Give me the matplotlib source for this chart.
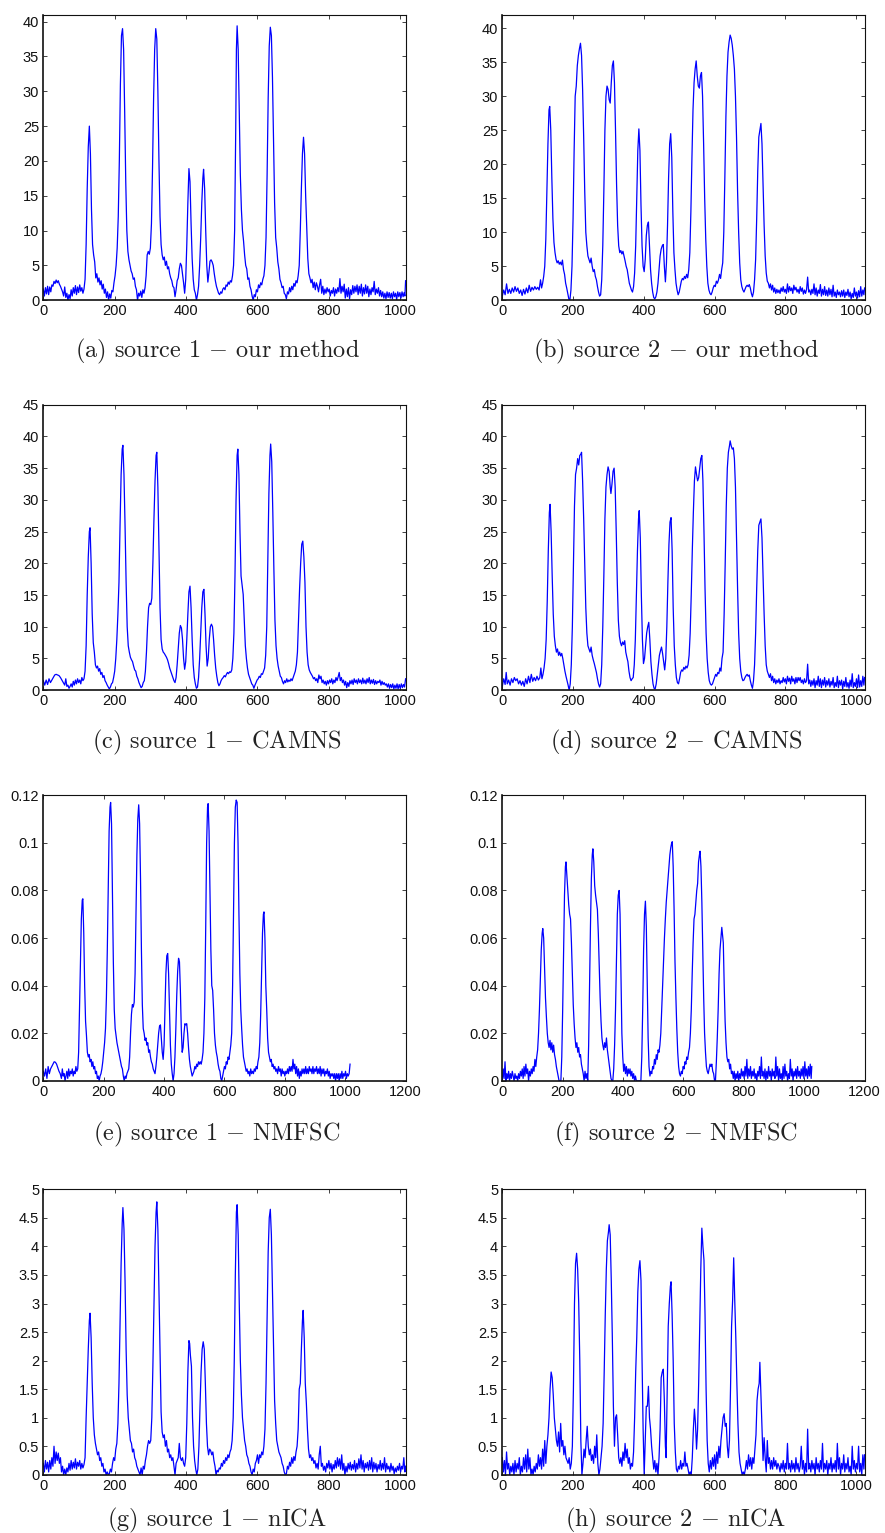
import matplotlib.pyplot as plt
from matplotlib.ticker import FuncFormatter, MultipleLocator

# (sample index, intensity) vertices

src1_ours = [
    (0, 1.6), (3, 0.6), (6, 1.8), (9, 0.9), (12, 2.0), (15, 0.8), (18, 1.9), (21, 1.2), (24, 2.2), (27, 2.0),
    (30, 2.7), (33, 2.4), (36, 2.9), (39, 2.5), (42, 2.8), (45, 2.3), (48, 2.0), (51, 1.6), (54, 1.2), (57, 0.6),
    (60, 1.9), (63, 0.4), (66, 1.0), (69, 0.0), (72, 0.8), (75, 0.2), (78, 1.5), (81, 0.6), (84, 1.8), (87, 1.0),
    (90, 2.1), (93, 0.8), (96, 1.9), (99, 1.1), (102, 2.2), (105, 1.3), (108, 1.8), (111, 1.0), (114, 1.6),
    (117, 3.0), (120, 8.0), (123, 16.0), (126, 22.0), (129, 25.0), (132, 21.0), (135, 13.0), (138, 8.0),
    (141, 6.5), (144, 5.5), (147, 3.2), (150, 3.8), (153, 2.6), (156, 3.2), (159, 2.2), (162, 2.8), (165, 1.6),
    (168, 2.3), (171, 1.0), (174, 1.6), (177, 0.4), (180, 1.2), (183, 0.0), (186, 0.9), (189, 0.3), (192, 1.4),
    (195, 1.2), (198, 2.5), (201, 3.5), (204, 5.0), (207, 7.5), (210, 12.0), (213, 20.0), (216, 31.0),
    (219, 38.0), (222, 39.0), (225, 36.0), (228, 27.0), (231, 17.0), (234, 10.0), (237, 7.0), (240, 5.8),
    (243, 5.0), (246, 4.2), (249, 3.8), (252, 3.0), (255, 3.2), (258, 2.0), (261, 1.5), (264, 0.0), (267, 1.0),
    (270, 0.6), (273, 1.3), (276, 0.4), (279, 1.5), (282, 1.0), (285, 1.8), (288, 3.5), (291, 6.5), (294, 7.0),
    (297, 6.6), (300, 7.5), (303, 11.0), (306, 19.0), (309, 29.0), (312, 36.0), (315, 39.0), (318, 37.5),
    (321, 30.0), (324, 20.0), (327, 12.0), (330, 8.0), (333, 6.5), (336, 5.8), (339, 6.2), (342, 5.0),
    (345, 5.6), (348, 4.5), (351, 4.8), (354, 3.8), (357, 3.2), (360, 2.8), (363, 2.0), (366, 1.8), (369, 0.5),
    (372, 1.5), (375, 2.8), (378, 3.2), (381, 4.5), (384, 5.3), (387, 5.0), (390, 3.8), (393, 2.5), (396, 1.0),
    (399, 3.0), (402, 8.0), (405, 14.0), (408, 18.9), (411, 17.0), (414, 11.0), (417, 6.0), (420, 3.0),
    (423, 1.5), (426, 1.0), (429, 0.0), (432, 0.8), (435, 2.0), (438, 5.0), (441, 9.0), (444, 14.0),
    (447, 17.5), (449, 18.8), (452, 16.0), (455, 10.0), (458, 5.0), (461, 2.6), (464, 4.0), (467, 5.6),
    (470, 5.8), (473, 5.5), (476, 5.0), (479, 3.8), (482, 2.8), (485, 2.0), (488, 1.5), (491, 1.0), (494, 0.8),
    (497, 1.2), (500, 1.0), (503, 1.6), (506, 1.8), (509, 1.5), (512, 2.2), (515, 2.0), (518, 2.6), (521, 2.3),
    (524, 2.8), (527, 2.6), (530, 3.5), (533, 5.0), (536, 10.0), (539, 24.0), (541, 36.0), (543, 39.4),
    (546, 36.0), (549, 27.0), (552, 18.0), (555, 13.0), (558, 10.0), (561, 8.5), (564, 6.5), (567, 5.0),
    (570, 4.5), (573, 3.0), (576, 3.2), (579, 2.0), (582, 1.5), (585, 0.6), (588, 0.0), (591, 0.8), (594, 0.5),
    (597, 1.5), (600, 1.2), (603, 2.2), (606, 1.8), (609, 2.5), (612, 2.2), (615, 3.0), (618, 3.5), (621, 5.0),
    (624, 9.0), (627, 18.0), (630, 29.0), (633, 36.5), (636, 39.2), (639, 38.0), (642, 32.0), (645, 23.0),
    (648, 14.0), (651, 9.0), (654, 7.5), (657, 5.5), (660, 4.5), (663, 3.0), (666, 2.5), (669, 1.8), (672, 2.0),
    (675, 1.0), (678, 0.8), (681, 0.2), (684, 1.2), (687, 0.9), (690, 1.8), (693, 1.2), (696, 2.0), (699, 1.5),
    (702, 2.4), (705, 2.0), (708, 2.8), (711, 2.5), (714, 3.5), (717, 5.0), (720, 10.0), (723, 16.0),
    (726, 21.0), (729, 23.4), (732, 21.0), (735, 15.0), (738, 10.5), (741, 6.0), (744, 3.8), (747, 3.2),
    (750, 2.5), (753, 3.0), (756, 1.8), (759, 2.6), (762, 1.5), (765, 2.5), (768, 2.0), (771, 1.2), (774, 2.2),
    (777, 3.0), (780, 1.0), (783, 2.0), (786, 0.8), (789, 1.6), (792, 1.0), (795, 1.8), (798, 1.2), (801, 1.6),
    (804, 0.6), (807, 1.4), (810, 1.0), (813, 1.8), (816, 0.6), (819, 1.6), (822, 1.0), (825, 1.8), (828, 1.2),
    (831, 3.1), (834, 1.0), (837, 2.0), (840, 1.2), (843, 2.3), (846, 0.3), (849, 1.6), (852, 0.5), (855, 1.8),
    (858, 0.2), (861, 1.5), (864, 0.8), (867, 2.1), (870, 1.0), (873, 2.0), (876, 1.2), (879, 2.2), (882, 0.8),
    (885, 2.0), (888, 1.0), (891, 2.3), (894, 0.6), (897, 1.8), (900, 0.9), (903, 2.2), (906, 1.0), (909, 2.0),
    (912, 0.5), (915, 1.6), (918, 0.8), (921, 1.8), (924, 1.2), (927, 2.7), (930, 0.8), (933, 1.6), (936, 1.0),
    (939, 1.8), (942, 0.6), (945, 1.4), (948, 0.5), (951, 1.2), (954, 0.3), (957, 1.0), (960, 0.2), (963, 1.2),
    (966, 0.4), (969, 1.1), (972, 0.3), (975, 1.0), (978, 0.2), (981, 1.2), (984, 0.5), (987, 1.0), (990, 0.1),
    (993, 1.2), (996, 0.5), (999, 1.1), (1002, 0.3), (1005, 1.2), (1008, 0.5), (1011, 1.1), (1013, 0.6),
    (1015, 2.8),
]

src2_ours = [
    (0, 0.6), (4, 1.5), (8, 0.8), (12, 2.4), (16, 1.0), (20, 1.6), (24, 1.0), (28, 1.8), (32, 1.2), (36, 2.0),
    (40, 1.3), (44, 1.8), (48, 1.0), (52, 1.5), (56, 0.7), (60, 1.6), (64, 0.9), (68, 1.8), (72, 1.1), (76, 2.2),
    (80, 1.3), (84, 1.9), (88, 1.5), (92, 2.0), (96, 1.6), (100, 1.9), (104, 1.5), (108, 3.0), (111, 1.8),
    (114, 2.5), (117, 3.5), (120, 5.0), (123, 9.0), (126, 16.0), (129, 23.0), (132, 28.0), (134, 28.5),
    (137, 25.0), (140, 18.0), (143, 12.0), (146, 8.5), (149, 7.0), (152, 6.0), (155, 5.5), (158, 5.8),
    (161, 5.3), (164, 5.6), (167, 5.2), (170, 5.9), (173, 4.5), (176, 3.8), (179, 2.5), (182, 1.8), (185, 1.0),
    (188, 0.2), (191, 0.0), (194, 1.5), (197, 5.0), (200, 12.0), (203, 22.0), (206, 30.0), (209, 31.5),
    (212, 34.5), (215, 36.0), (218, 37.0), (221, 37.8), (224, 36.0), (227, 31.0), (230, 24.0), (233, 16.0),
    (236, 10.0), (239, 8.0), (242, 6.5), (245, 6.0), (248, 5.5), (251, 6.2), (254, 5.0), (257, 4.2), (260, 4.5),
    (263, 3.5), (266, 3.0), (269, 2.0), (272, 1.2), (275, 0.6), (278, 0.8), (281, 3.0), (284, 8.0), (287, 16.0),
    (290, 25.0), (293, 30.0), (296, 31.5), (299, 31.0), (302, 29.5), (305, 29.0), (308, 32.0), (311, 34.5),
    (314, 35.2), (317, 32.0), (320, 25.0), (323, 17.0), (326, 11.0), (329, 8.0), (332, 7.0), (335, 7.3),
    (338, 6.8), (341, 7.2), (344, 6.5), (347, 5.8), (350, 5.0), (353, 4.5), (356, 3.5), (359, 2.5), (362, 2.0),
    (365, 1.5), (368, 1.2), (371, 2.0), (374, 4.0), (377, 8.0), (380, 15.0), (383, 22.0), (386, 25.2),
    (389, 22.0), (392, 14.0), (395, 8.0), (398, 5.0), (401, 4.2), (404, 6.0), (407, 9.5), (410, 11.0),
    (413, 11.5), (416, 8.0), (419, 4.5), (422, 2.5), (425, 1.2), (428, 0.4), (431, 0.2), (434, 0.5), (437, 1.2),
    (440, 2.5), (443, 4.5), (446, 6.5), (449, 7.5), (452, 8.0), (455, 8.2), (458, 5.0), (461, 2.7), (464, 5.5),
    (467, 11.0), (470, 18.0), (473, 23.0), (476, 24.5), (479, 21.0), (482, 13.0), (485, 7.0), (488, 4.5),
    (491, 2.5), (494, 1.5), (497, 0.8), (500, 1.2), (503, 2.0), (506, 2.8), (509, 3.2), (512, 3.0), (515, 3.5),
    (518, 3.2), (521, 3.8), (524, 3.3), (527, 4.5), (530, 7.0), (533, 13.0), (536, 21.0), (539, 28.0),
    (542, 32.0), (545, 34.0), (548, 35.2), (551, 33.0), (554, 31.5), (557, 31.2), (560, 33.0), (563, 33.5),
    (566, 30.0), (569, 23.0), (572, 15.0), (575, 9.0), (578, 5.0), (581, 2.5), (584, 1.5), (587, 1.0),
    (590, 0.8), (593, 1.2), (596, 1.8), (599, 2.2), (602, 2.0), (605, 2.8), (608, 2.5), (611, 3.0), (614, 3.8),
    (617, 3.2), (620, 4.5), (623, 5.5), (626, 10.0), (629, 18.0), (632, 27.0), (635, 33.0), (638, 36.5),
    (641, 38.0), (644, 39.0), (647, 38.5), (650, 37.5), (653, 36.0), (656, 34.0), (659, 30.0), (662, 24.0),
    (665, 16.0), (668, 10.0), (671, 5.5), (674, 3.0), (677, 2.0), (680, 1.5), (683, 1.2), (686, 1.6), (689, 2.0),
    (692, 2.2), (695, 2.0), (698, 2.3), (701, 1.8), (704, 1.0), (707, 0.5), (710, 1.2), (713, 3.0), (716, 6.0),
    (719, 12.0), (722, 19.0), (725, 24.0), (728, 25.0), (731, 26.0), (734, 23.0), (737, 17.0), (740, 11.0),
    (743, 6.5), (746, 4.0), (749, 2.8), (752, 2.5), (755, 1.8), (758, 2.4), (761, 1.5), (764, 2.2), (767, 1.2),
    (770, 1.8), (773, 1.0), (776, 1.6), (779, 1.1), (782, 1.5), (785, 1.0), (788, 1.8), (791, 1.3), (794, 2.0),
    (797, 1.2), (800, 1.6), (803, 1.0), (806, 2.4), (809, 1.2), (812, 2.0), (815, 1.4), (818, 1.8), (821, 1.0),
    (824, 2.2), (827, 1.5), (830, 1.9), (833, 1.2), (836, 1.6), (839, 1.0), (842, 2.0), (845, 1.3), (848, 1.8),
    (851, 0.9), (854, 1.5), (857, 1.0), (860, 1.6), (863, 3.4), (866, 1.2), (869, 1.5), (872, 0.8), (875, 1.6),
    (878, 1.0), (881, 2.4), (884, 0.8), (887, 1.8), (890, 0.6), (893, 1.5), (896, 1.0), (899, 2.3), (902, 0.6),
    (905, 1.6), (908, 0.8), (911, 2.0), (914, 0.7), (917, 1.5), (920, 0.6), (923, 1.8), (926, 0.8), (929, 1.6),
    (932, 0.5), (935, 2.2), (938, 0.6), (941, 1.2), (944, 0.4), (947, 1.5), (950, 0.8), (953, 1.2), (956, 0.5),
    (959, 1.4), (962, 0.6), (965, 1.5), (968, 0.4), (971, 1.2), (974, 0.7), (977, 1.6), (980, 0.5), (983, 1.2),
    (986, 0.2), (989, 1.0), (992, 0.4), (995, 1.8), (998, 0.6), (1001, 1.2), (1004, 0.3), (1007, 1.4),
    (1010, 0.5), (1013, 2.0), (1016, 0.6), (1019, 1.5), (1022, 0.8), (1024, 1.8),
]

src1_camns = [
    (0, 1.5), (4, 0.8), (8, 1.6), (12, 0.9), (16, 1.8), (20, 1.2), (24, 1.6), (28, 2.0), (32, 2.4), (36, 2.5),
    (40, 2.4), (44, 2.3), (48, 2.0), (52, 1.6), (56, 1.2), (60, 0.8), (63, 1.8), (66, 0.6), (69, 0.8), (72, 0.3),
    (75, 0.6), (78, 1.0), (81, 0.5), (84, 1.4), (87, 0.8), (90, 1.6), (93, 1.0), (96, 1.8), (99, 1.2), (102, 1.6),
    (105, 1.0), (108, 2.0), (111, 1.5), (114, 1.8), (117, 3.0), (120, 7.0), (123, 15.0), (126, 21.0),
    (129, 25.0), (131, 25.6), (134, 20.0), (137, 12.0), (140, 7.5), (143, 6.0), (146, 4.0), (149, 3.5),
    (152, 3.8), (155, 3.0), (158, 3.4), (161, 2.5), (164, 2.8), (167, 2.0), (170, 2.3), (173, 1.5), (176, 1.2),
    (179, 0.8), (182, 0.5), (185, 0.2), (188, 0.5), (191, 1.0), (194, 1.2), (197, 2.0), (200, 3.0), (203, 5.0),
    (206, 8.0), (209, 12.0), (212, 17.0), (215, 26.0), (218, 34.0), (221, 38.0), (223, 38.6), (226, 34.0),
    (229, 26.0), (232, 17.0), (235, 10.0), (238, 7.0), (241, 6.0), (244, 5.2), (247, 4.8), (250, 4.5),
    (253, 3.8), (256, 3.2), (259, 3.0), (262, 2.2), (265, 1.8), (268, 1.2), (271, 0.8), (274, 0.4), (277, 0.6),
    (280, 1.2), (283, 1.5), (286, 3.0), (289, 6.0), (292, 10.0), (295, 13.0), (298, 13.7), (301, 13.5),
    (304, 14.5), (307, 20.0), (310, 27.0), (313, 33.0), (316, 37.0), (318, 37.5), (321, 32.0), (324, 22.0),
    (327, 13.0), (330, 8.0), (333, 6.5), (336, 6.0), (339, 5.8), (342, 5.5), (345, 5.2), (348, 4.8), (351, 4.2),
    (354, 3.5), (357, 3.0), (360, 2.5), (363, 2.0), (366, 1.5), (369, 1.2), (372, 2.0), (375, 4.0), (378, 6.5),
    (381, 9.0), (384, 10.2), (387, 9.8), (390, 8.0), (393, 5.0), (396, 3.3), (399, 4.5), (402, 8.0),
    (405, 12.0), (408, 15.5), (411, 16.4), (414, 13.0), (417, 8.0), (420, 4.0), (423, 2.0), (426, 1.0),
    (429, 0.3), (432, 0.5), (435, 2.0), (438, 5.0), (441, 9.0), (444, 13.0), (447, 15.5), (450, 15.9),
    (453, 12.0), (456, 7.0), (459, 3.8), (462, 5.0), (465, 8.0), (468, 10.0), (471, 10.4), (474, 10.0),
    (477, 8.0), (480, 5.5), (483, 3.5), (486, 2.2), (489, 1.2), (492, 0.7), (495, 1.0), (498, 1.5), (501, 1.8),
    (504, 2.0), (507, 2.3), (510, 2.1), (513, 2.5), (516, 2.8), (519, 2.6), (522, 2.9), (525, 2.8), (528, 3.2),
    (531, 5.0), (534, 9.0), (537, 18.0), (540, 30.0), (543, 37.0), (545, 38.0), (548, 34.0), (551, 25.0),
    (554, 18.0), (557, 16.5), (560, 15.1), (563, 11.0), (566, 7.0), (569, 5.0), (572, 3.5), (575, 2.5),
    (578, 2.0), (581, 1.5), (584, 1.0), (587, 0.8), (590, 0.3), (593, 0.8), (596, 1.2), (599, 1.6), (602, 1.8),
    (605, 2.2), (608, 2.0), (611, 2.6), (614, 2.5), (617, 3.0), (620, 3.5), (623, 5.5), (626, 10.0),
    (629, 20.0), (632, 31.0), (635, 37.0), (637, 38.8), (640, 36.0), (643, 28.0), (646, 19.0), (649, 11.0),
    (652, 7.0), (655, 5.0), (658, 3.8), (661, 3.0), (664, 2.2), (667, 2.0), (670, 1.4), (673, 1.0), (676, 1.5),
    (679, 1.2), (682, 1.8), (685, 1.3), (688, 1.6), (691, 1.4), (694, 1.8), (697, 1.5), (700, 2.0), (703, 2.5),
    (706, 3.0), (709, 4.0), (712, 6.0), (715, 11.0), (718, 16.0), (721, 20.0), (724, 23.0), (727, 23.5),
    (730, 21.0), (733, 17.0), (736, 10.0), (739, 6.0), (742, 4.0), (745, 3.2), (748, 2.8), (751, 2.5),
    (754, 2.2), (757, 1.8), (760, 2.0), (763, 1.5), (766, 1.8), (769, 1.2), (772, 2.4), (775, 1.8), (778, 2.2),
    (781, 1.2), (784, 1.6), (787, 1.0), (790, 1.4), (793, 0.8), (796, 1.5), (799, 1.0), (802, 1.6), (805, 1.2),
    (808, 1.8), (811, 1.0), (814, 1.6), (817, 1.2), (820, 2.0), (823, 1.5), (826, 2.1), (829, 2.8), (832, 1.5),
    (835, 2.0), (838, 1.2), (841, 1.6), (844, 0.8), (847, 1.4), (850, 0.4), (853, 1.2), (856, 0.6), (859, 1.5),
    (862, 1.0), (865, 1.6), (868, 0.9), (871, 1.8), (874, 1.2), (877, 1.6), (880, 1.0), (883, 1.8), (886, 1.2),
    (889, 1.6), (892, 1.0), (895, 1.9), (898, 1.1), (901, 1.6), (904, 1.0), (907, 1.8), (910, 1.2), (913, 2.0),
    (916, 1.0), (919, 1.6), (922, 1.1), (925, 1.7), (928, 0.9), (931, 1.5), (934, 1.0), (937, 1.4), (940, 1.2),
    (943, 1.6), (946, 0.8), (949, 1.4), (952, 0.9), (955, 1.2), (958, 0.8), (961, 1.0), (964, 0.5), (967, 1.0),
    (970, 0.3), (973, 0.9), (976, 0.4), (979, 1.0), (982, 0.2), (985, 0.8), (988, 0.3), (991, 1.0), (994, 0.2),
    (997, 0.9), (1000, 0.3), (1003, 1.0), (1006, 0.4), (1009, 0.9), (1012, 0.5), (1015, 1.8),
]

src2_camns = [
    (0, 0.6), (4, 1.8), (8, 0.9), (11, 2.8), (14, 1.0), (18, 1.6), (22, 0.8), (26, 1.8), (30, 1.2), (34, 2.0),
    (38, 1.5), (42, 1.8), (46, 1.0), (50, 1.5), (54, 0.8), (58, 1.4), (62, 0.6), (66, 1.8), (70, 1.0), (74, 2.2),
    (78, 1.2), (82, 2.5), (86, 1.4), (90, 2.0), (94, 1.5), (98, 2.2), (102, 1.6), (106, 2.0), (109, 3.5),
    (112, 1.8), (115, 2.5), (118, 3.5), (121, 5.0), (124, 8.0), (127, 14.0), (130, 22.0), (133, 28.0),
    (135, 29.3), (138, 25.0), (141, 18.0), (144, 12.0), (147, 8.5), (150, 7.0), (153, 6.0), (156, 6.5),
    (159, 5.5), (162, 6.0), (165, 5.4), (168, 5.8), (171, 5.0), (174, 4.0), (177, 3.0), (180, 2.2), (183, 1.5),
    (186, 0.8), (189, 0.0), (192, 1.0), (195, 4.0), (198, 10.0), (201, 20.0), (204, 29.0), (207, 34.0),
    (210, 35.0), (213, 36.5), (216, 35.5), (219, 37.0), (222, 37.2), (224, 37.5), (227, 33.0), (230, 27.0),
    (233, 20.0), (236, 13.0), (239, 9.0), (242, 7.0), (245, 6.5), (248, 6.0), (251, 6.8), (254, 5.5),
    (257, 4.8), (260, 4.2), (263, 3.5), (266, 2.8), (269, 1.8), (272, 1.0), (275, 0.5), (278, 1.0), (281, 4.0),
    (284, 10.0), (287, 18.0), (290, 27.0), (293, 32.0), (296, 34.0), (299, 35.2), (302, 34.5), (305, 32.0),
    (307, 31.0), (310, 32.5), (313, 34.5), (316, 35.0), (319, 32.0), (322, 25.0), (325, 17.0), (328, 11.0),
    (331, 8.5), (334, 7.5), (337, 7.0), (340, 7.6), (343, 7.2), (346, 7.8), (349, 6.0), (352, 5.2), (355, 4.5),
    (358, 3.0), (361, 2.0), (364, 1.5), (367, 1.8), (370, 2.0), (373, 4.0), (376, 8.0), (379, 15.0),
    (382, 22.0), (385, 27.0), (387, 28.3), (390, 24.0), (393, 15.0), (396, 8.0), (399, 4.2), (402, 5.0),
    (405, 7.0), (408, 9.0), (411, 10.0), (414, 10.7), (417, 8.0), (420, 4.5), (423, 2.5), (426, 1.0),
    (429, 0.3), (432, 0.2), (435, 1.0), (438, 2.5), (441, 4.0), (444, 5.5), (447, 6.2), (450, 6.8), (453, 5.8),
    (456, 4.5), (459, 3.2), (462, 5.0), (465, 10.0), (468, 17.0), (471, 23.0), (474, 26.5), (477, 27.2),
    (480, 22.0), (483, 13.0), (486, 7.0), (489, 4.0), (492, 2.0), (495, 1.2), (498, 1.0), (501, 1.8),
    (504, 2.8), (507, 3.2), (510, 3.0), (513, 3.6), (516, 3.3), (519, 3.8), (522, 3.5), (525, 4.0), (528, 5.5),
    (531, 9.0), (534, 15.0), (537, 22.0), (540, 28.0), (543, 33.0), (546, 35.2), (549, 34.0), (552, 33.0),
    (555, 33.5), (558, 35.0), (561, 36.5), (564, 37.0), (567, 33.0), (570, 25.0), (573, 16.0), (576, 9.0),
    (579, 5.0), (582, 2.8), (585, 1.5), (588, 1.0), (591, 0.8), (594, 1.0), (597, 1.5), (600, 2.0), (603, 2.5),
    (606, 2.2), (609, 2.8), (612, 2.6), (615, 3.5), (618, 3.0), (621, 5.0), (624, 6.0), (627, 12.0),
    (630, 20.0), (633, 29.0), (636, 35.0), (639, 37.5), (642, 38.5), (644, 39.3), (647, 38.5), (650, 38.0),
    (653, 38.2), (656, 36.5), (659, 32.0), (662, 24.0), (665, 16.0), (668, 9.0), (671, 5.0), (674, 3.0),
    (677, 2.0), (680, 1.5), (683, 1.6), (686, 2.0), (689, 2.3), (692, 2.5), (695, 2.2), (698, 2.4), (701, 1.5),
    (704, 0.8), (707, 0.3), (710, 1.5), (713, 4.0), (716, 9.0), (719, 16.0), (722, 22.0), (725, 26.0),
    (728, 26.5), (731, 27.0), (734, 24.0), (737, 18.0), (740, 12.0), (743, 7.0), (746, 4.0), (749, 3.0),
    (752, 2.5), (755, 2.0), (758, 2.6), (761, 1.5), (764, 2.2), (767, 1.2), (770, 1.8), (773, 1.0), (776, 1.6),
    (779, 1.2), (782, 1.8), (785, 1.0), (788, 1.5), (791, 1.2), (794, 2.0), (797, 1.3), (800, 1.8), (803, 1.0),
    (806, 2.2), (809, 1.4), (812, 1.9), (815, 1.0), (818, 2.2), (821, 1.4), (824, 1.8), (827, 1.0), (830, 2.0),
    (833, 1.2), (836, 2.0), (839, 1.5), (842, 2.0), (845, 1.2), (848, 1.6), (851, 1.0), (854, 1.8), (857, 1.2),
    (860, 1.5), (863, 4.1), (866, 1.0), (869, 1.6), (872, 0.6), (875, 1.5), (878, 0.8), (881, 1.8), (884, 0.4),
    (887, 1.5), (890, 0.8), (893, 2.2), (896, 0.6), (899, 1.8), (902, 0.4), (905, 1.6), (908, 0.8), (911, 2.0),
    (914, 0.5), (917, 1.5), (920, 0.8), (923, 1.8), (926, 0.5), (929, 1.4), (932, 0.8), (935, 2.0), (938, 0.4),
    (941, 1.2), (944, 0.6), (947, 2.2), (950, 0.4), (953, 1.5), (956, 0.8), (959, 1.6), (962, 0.2), (965, 1.4),
    (968, 0.6), (971, 2.0), (974, 0.5), (977, 1.2), (980, 0.3), (983, 1.6), (986, 0.6), (989, 2.6), (992, 0.4),
    (995, 1.2), (998, 0.6), (1001, 1.8), (1004, 0.4), (1007, 2.4), (1010, 0.5), (1013, 1.5), (1016, 0.6),
    (1019, 2.2), (1022, 0.8), (1024, 2.0),
]

src1_nmfsc = [
    (0, 0.004), (4, 0.002), (8, 0.005), (12, 0.001), (16, 0.006), (20, 0.003), (24, 0.005), (28, 0.006),
    (32, 0.007), (36, 0.008), (40, 0.0078), (44, 0.007), (48, 0.0055), (52, 0.004), (56, 0.003), (60, 0.001),
    (63, 0.005), (66, 0.002), (69, 0.003), (72, 0.0), (75, 0.002), (78, 0.004), (81, 0.001), (84, 0.005),
    (87, 0.002), (90, 0.004), (93, 0.003), (96, 0.005), (99, 0.002), (102, 0.004), (105, 0.003), (108, 0.006),
    (111, 0.004), (114, 0.005), (117, 0.012), (120, 0.03), (123, 0.05), (126, 0.068), (129, 0.076),
    (131, 0.0765), (134, 0.062), (137, 0.04), (140, 0.025), (143, 0.019), (146, 0.012), (149, 0.01),
    (152, 0.011), (155, 0.008), (158, 0.009), (161, 0.006), (164, 0.008), (167, 0.005), (170, 0.006),
    (173, 0.003), (176, 0.004), (179, 0.001), (182, 0.002), (185, 0.0), (188, 0.002), (191, 0.003),
    (194, 0.005), (197, 0.008), (200, 0.012), (203, 0.016), (206, 0.022), (209, 0.035), (212, 0.055),
    (215, 0.08), (218, 0.105), (221, 0.115), (223, 0.117), (226, 0.108), (229, 0.08), (232, 0.05), (235, 0.03),
    (238, 0.022), (241, 0.019), (244, 0.016), (247, 0.014), (250, 0.012), (253, 0.01), (256, 0.008),
    (259, 0.006), (262, 0.005), (265, 0.002), (268, 0.0), (271, 0.002), (274, 0.001), (277, 0.003),
    (280, 0.004), (283, 0.005), (286, 0.01), (289, 0.02), (292, 0.028), (295, 0.032), (298, 0.031),
    (301, 0.033), (304, 0.045), (307, 0.07), (310, 0.095), (313, 0.11), (316, 0.116), (319, 0.108),
    (322, 0.085), (325, 0.055), (328, 0.032), (331, 0.022), (334, 0.02), (337, 0.017), (340, 0.018),
    (343, 0.015), (346, 0.016), (349, 0.012), (352, 0.013), (355, 0.01), (358, 0.008), (361, 0.007),
    (364, 0.005), (367, 0.004), (370, 0.003), (373, 0.006), (376, 0.01), (379, 0.015), (382, 0.02),
    (385, 0.023), (388, 0.0235), (391, 0.018), (394, 0.012), (397, 0.009), (400, 0.015), (403, 0.03),
    (406, 0.045), (409, 0.0525), (412, 0.0535), (415, 0.045), (418, 0.03), (421, 0.015), (424, 0.007),
    (427, 0.003), (430, 0.0), (433, 0.003), (436, 0.01), (439, 0.022), (442, 0.036), (445, 0.046),
    (448, 0.0515), (451, 0.05), (454, 0.038), (457, 0.022), (460, 0.012), (463, 0.014), (466, 0.02),
    (469, 0.024), (472, 0.0235), (475, 0.024), (478, 0.02), (481, 0.014), (484, 0.009), (487, 0.006),
    (490, 0.004), (493, 0.002), (496, 0.003), (499, 0.004), (502, 0.006), (505, 0.005), (508, 0.007),
    (511, 0.006), (514, 0.008), (517, 0.007), (520, 0.008), (523, 0.007), (526, 0.009), (529, 0.012),
    (532, 0.02), (535, 0.035), (538, 0.065), (541, 0.1), (544, 0.115), (546, 0.1165), (549, 0.105),
    (552, 0.08), (555, 0.055), (558, 0.04), (561, 0.038), (564, 0.03), (567, 0.02), (570, 0.015),
    (573, 0.012), (576, 0.01), (579, 0.007), (582, 0.005), (585, 0.004), (588, 0.001), (591, 0.0),
    (594, 0.002), (597, 0.004), (600, 0.006), (603, 0.005), (606, 0.008), (609, 0.007), (612, 0.01),
    (615, 0.009), (618, 0.012), (621, 0.015), (624, 0.02), (627, 0.04), (630, 0.07), (633, 0.1), (636, 0.115),
    (639, 0.118), (642, 0.117), (645, 0.1), (648, 0.07), (651, 0.045), (654, 0.03), (657, 0.022),
    (660, 0.015), (663, 0.01), (666, 0.008), (669, 0.006), (672, 0.004), (675, 0.005), (678, 0.003),
    (681, 0.004), (684, 0.002), (687, 0.005), (690, 0.003), (693, 0.004), (696, 0.003), (699, 0.005),
    (702, 0.004), (705, 0.006), (708, 0.005), (711, 0.008), (714, 0.01), (717, 0.016), (720, 0.028),
    (723, 0.045), (726, 0.062), (729, 0.07), (731, 0.071), (734, 0.06), (737, 0.04), (740, 0.03),
    (743, 0.018), (746, 0.012), (749, 0.01), (752, 0.008), (755, 0.009), (758, 0.006), (761, 0.007),
    (764, 0.005), (767, 0.006), (770, 0.004), (773, 0.005), (776, 0.003), (779, 0.006), (782, 0.004),
    (785, 0.005), (788, 0.002), (791, 0.005), (794, 0.003), (797, 0.004), (800, 0.002), (803, 0.004),
    (806, 0.003), (809, 0.005), (812, 0.003), (815, 0.006), (818, 0.004), (821, 0.006), (824, 0.004),
    (827, 0.009), (830, 0.005), (833, 0.007), (836, 0.003), (839, 0.006), (842, 0.002), (845, 0.005),
    (848, 0.001), (851, 0.004), (854, 0.002), (857, 0.005), (860, 0.003), (863, 0.005), (866, 0.003),
    (869, 0.006), (872, 0.003), (875, 0.005), (878, 0.003), (881, 0.006), (884, 0.004), (887, 0.005),
    (890, 0.003), (893, 0.006), (896, 0.003), (899, 0.005), (902, 0.004), (905, 0.006), (908, 0.003),
    (911, 0.005), (914, 0.003), (917, 0.006), (920, 0.002), (923, 0.005), (926, 0.003), (929, 0.005),
    (932, 0.002), (935, 0.004), (938, 0.003), (941, 0.005), (944, 0.002), (947, 0.004), (950, 0.001),
    (953, 0.003), (956, 0.002), (959, 0.003), (962, 0.001), (965, 0.003), (968, 0.0), (971, 0.003),
    (974, 0.001), (977, 0.003), (980, 0.0), (983, 0.003), (986, 0.001), (989, 0.004), (992, 0.001),
    (995, 0.003), (998, 0.002), (1001, 0.004), (1004, 0.001), (1007, 0.003), (1010, 0.002), (1013, 0.003),
    (1016, 0.007),
]

src2_nmfsc = [
    (0, 0.0), (3, 0.005), (6, 0.001), (9, 0.008), (12, 0.0), (15, 0.003), (18, 0.001), (21, 0.004), (24, 0.0),
    (27, 0.003), (30, 0.001), (33, 0.004), (36, 0.002), (39, 0.0), (42, 0.003), (45, 0.001), (48, 0.002),
    (51, 0.0), (54, 0.003), (57, 0.001), (60, 0.004), (63, 0.002), (66, 0.005), (69, 0.001), (72, 0.006),
    (75, 0.002), (78, 0.007), (81, 0.003), (84, 0.005), (87, 0.0), (90, 0.004), (93, 0.002), (96, 0.005),
    (99, 0.003), (102, 0.006), (105, 0.004), (108, 0.009), (111, 0.006), (114, 0.01), (117, 0.013),
    (120, 0.02), (123, 0.03), (126, 0.042), (129, 0.055), (132, 0.062), (134, 0.064), (137, 0.06),
    (140, 0.048), (143, 0.035), (146, 0.027), (149, 0.02), (152, 0.016), (155, 0.014), (158, 0.017),
    (161, 0.013), (164, 0.016), (167, 0.012), (170, 0.015), (173, 0.011), (176, 0.009), (179, 0.006),
    (182, 0.004), (185, 0.002), (188, 0.0), (191, 0.0), (194, 0.0), (197, 0.01), (200, 0.03), (203, 0.055),
    (206, 0.078), (209, 0.09), (211, 0.092), (214, 0.086), (217, 0.08), (220, 0.074), (223, 0.07),
    (226, 0.068), (229, 0.058), (232, 0.045), (235, 0.032), (238, 0.024), (241, 0.018), (244, 0.014),
    (247, 0.016), (250, 0.012), (253, 0.014), (256, 0.01), (259, 0.011), (262, 0.007), (265, 0.005),
    (268, 0.003), (271, 0.0), (274, 0.004), (277, 0.001), (280, 0.003), (283, 0.0), (286, 0.015), (289, 0.04),
    (292, 0.065), (295, 0.085), (298, 0.095), (300, 0.0975), (303, 0.092), (306, 0.082), (309, 0.078),
    (312, 0.075), (315, 0.072), (318, 0.062), (321, 0.048), (324, 0.035), (327, 0.025), (330, 0.018),
    (333, 0.015), (336, 0.013), (339, 0.016), (342, 0.014), (345, 0.018), (348, 0.013), (351, 0.01),
    (354, 0.007), (357, 0.004), (360, 0.001), (363, 0.0), (366, 0.0), (369, 0.005), (372, 0.015),
    (375, 0.03), (378, 0.05), (381, 0.07), (384, 0.078), (387, 0.08), (390, 0.07), (393, 0.045), (396, 0.02),
    (399, 0.01), (402, 0.004), (405, 0.007), (408, 0.003), (411, 0.006), (414, 0.002), (417, 0.005),
    (420, 0.003), (423, 0.005), (426, 0.002), (429, 0.004), (432, 0.001), (435, 0.003), (438, 0.0),
    (441, 0.002), (444, 0.0), (447, 0.0), (450, 0.0), (453, 0.0), (456, 0.0), (459, 0.0), (462, 0.01),
    (465, 0.03), (468, 0.055), (471, 0.07), (474, 0.0755), (477, 0.065), (480, 0.04), (483, 0.018),
    (486, 0.006), (489, 0.002), (492, 0.004), (495, 0.003), (498, 0.006), (501, 0.005), (504, 0.009),
    (507, 0.007), (510, 0.011), (513, 0.009), (516, 0.013), (519, 0.012), (522, 0.015), (525, 0.02),
    (528, 0.03), (531, 0.04), (534, 0.05), (537, 0.06), (540, 0.068), (543, 0.075), (546, 0.08), (549, 0.085),
    (552, 0.09), (555, 0.095), (558, 0.098), (561, 0.1), (563, 0.1005), (566, 0.09), (569, 0.072),
    (572, 0.05), (575, 0.035), (578, 0.022), (581, 0.012), (584, 0.006), (587, 0.003), (590, 0.002),
    (593, 0.004), (596, 0.003), (599, 0.006), (602, 0.005), (605, 0.008), (608, 0.007), (611, 0.01),
    (614, 0.009), (617, 0.012), (620, 0.014), (623, 0.02), (626, 0.03), (629, 0.045), (632, 0.058),
    (635, 0.068), (638, 0.07), (641, 0.075), (644, 0.08), (647, 0.083), (650, 0.092), (653, 0.095),
    (655, 0.0965), (658, 0.09), (661, 0.075), (664, 0.055), (667, 0.035), (670, 0.02), (673, 0.012),
    (676, 0.006), (679, 0.004), (682, 0.003), (685, 0.005), (688, 0.007), (691, 0.006), (694, 0.007),
    (697, 0.004), (700, 0.003), (703, 0.0), (706, 0.0), (709, 0.008), (712, 0.018), (715, 0.03),
    (718, 0.045), (721, 0.055), (724, 0.06), (727, 0.0645), (729, 0.062), (732, 0.058), (735, 0.04),
    (738, 0.025), (741, 0.016), (744, 0.01), (747, 0.008), (750, 0.009), (753, 0.005), (756, 0.007),
    (759, 0.003), (762, 0.004), (765, 0.001), (768, 0.004), (771, 0.0), (774, 0.003), (777, 0.001),
    (780, 0.004), (783, 0.0), (786, 0.003), (789, 0.001), (792, 0.005), (795, 0.002), (798, 0.004),
    (801, 0.001), (804, 0.006), (807, 0.002), (810, 0.009), (813, 0.001), (816, 0.005), (819, 0.002),
    (822, 0.006), (825, 0.001), (828, 0.004), (831, 0.002), (834, 0.005), (837, 0.001), (840, 0.003),
    (843, 0.0), (846, 0.004), (849, 0.002), (852, 0.006), (855, 0.001), (858, 0.01), (861, 0.002),
    (864, 0.004), (867, 0.001), (870, 0.005), (873, 0.0), (876, 0.004), (879, 0.001), (882, 0.006),
    (885, 0.002), (888, 0.004), (891, 0.0), (894, 0.005), (897, 0.002), (900, 0.004), (903, 0.001),
    (906, 0.01), (909, 0.002), (912, 0.006), (915, 0.0), (918, 0.005), (921, 0.001), (924, 0.003), (927, 0.0),
    (930, 0.006), (933, 0.001), (936, 0.007), (939, 0.002), (942, 0.004), (945, 0.0), (948, 0.003),
    (951, 0.001), (954, 0.009), (957, 0.002), (960, 0.005), (963, 0.0), (966, 0.004), (969, 0.002),
    (972, 0.005), (975, 0.001), (978, 0.006), (981, 0.002), (984, 0.004), (987, 0.001), (990, 0.005),
    (993, 0.002), (996, 0.006), (999, 0.001), (1002, 0.008), (1005, 0.002), (1008, 0.005), (1011, 0.001),
    (1014, 0.006), (1017, 0.002), (1020, 0.007), (1023, 0.001), (1025, 0.006),
]

src1_nica = [
    (0, 0.2), (3, 0.05), (6, 0.25), (9, 0.1), (12, 0.22), (15, 0.05), (18, 0.25), (21, 0.1), (24, 0.3),
    (27, 0.15), (30, 0.5), (33, 0.2), (36, 0.4), (39, 0.25), (42, 0.38), (45, 0.2), (48, 0.3), (51, 0.05),
    (54, 0.15), (57, 0.0), (60, 0.1), (63, 0.0), (66, 0.12), (69, 0.05), (72, 0.2), (75, 0.08), (78, 0.25),
    (81, 0.1), (84, 0.22), (87, 0.12), (90, 0.28), (93, 0.1), (96, 0.22), (99, 0.15), (102, 0.25), (105, 0.1),
    (108, 0.2), (111, 0.12), (114, 0.18), (117, 0.3), (120, 1.0), (123, 1.6), (126, 2.2), (129, 2.7),
    (131, 2.83), (134, 2.4), (137, 1.6), (140, 1.0), (143, 0.7), (146, 0.55), (149, 0.45), (152, 0.35),
    (155, 0.4), (158, 0.25), (161, 0.3), (164, 0.15), (167, 0.2), (170, 0.05), (173, 0.1), (176, 0.0),
    (179, 0.05), (182, 0.0), (185, 0.02), (188, 0.1), (191, 0.05), (194, 0.2), (197, 0.3), (200, 0.25),
    (203, 0.45), (206, 0.55), (209, 0.9), (212, 1.6), (215, 2.6), (218, 3.7), (221, 4.4), (223, 4.68),
    (226, 4.3), (229, 3.4), (232, 2.2), (235, 1.4), (238, 1.0), (241, 0.8), (244, 0.6), (247, 0.55), (250, 0.4),
    (253, 0.45), (256, 0.3), (259, 0.25), (262, 0.15), (265, 0.1), (268, 0.05), (271, 0.0), (274, 0.12),
    (277, 0.0), (280, 0.15), (283, 0.1), (286, 0.25), (289, 0.35), (292, 0.5), (295, 0.6), (298, 0.55),
    (301, 0.6), (304, 1.0), (307, 1.9), (310, 3.0), (313, 4.0), (316, 4.6), (318, 4.78), (321, 4.3), (324, 3.2),
    (327, 2.0), (330, 1.1), (333, 0.75), (336, 0.65), (339, 0.7), (342, 0.5), (345, 0.6), (348, 0.4),
    (351, 0.45), (354, 0.3), (357, 0.35), (360, 0.25), (363, 0.3), (366, 0.15), (369, 0.0), (372, 0.2),
    (375, 0.25), (378, 0.3), (381, 0.55), (384, 0.3), (387, 0.25), (390, 0.3), (393, 0.2), (396, 0.15),
    (399, 0.3), (402, 0.9), (405, 1.8), (408, 2.35), (410, 2.3), (412, 2.1), (415, 1.9), (418, 1.0),
    (421, 0.5), (424, 0.25), (427, 0.1), (430, 0.0), (433, 0.1), (436, 0.5), (439, 1.2), (442, 1.8),
    (445, 2.2), (448, 2.33), (451, 2.2), (454, 1.6), (457, 0.9), (460, 0.5), (463, 0.35), (466, 0.45),
    (469, 0.42), (472, 0.35), (475, 0.4), (478, 0.25), (481, 0.15), (484, 0.0), (487, 0.08), (490, 0.05),
    (493, 0.12), (496, 0.1), (499, 0.2), (502, 0.15), (505, 0.25), (508, 0.2), (511, 0.3), (514, 0.25),
    (517, 0.35), (520, 0.3), (523, 0.4), (526, 0.45), (529, 0.6), (532, 1.0), (535, 2.0), (538, 3.5),
    (541, 4.6), (543, 4.73), (546, 4.2), (549, 3.0), (552, 2.0), (555, 1.4), (558, 1.0), (561, 0.8),
    (564, 0.6), (567, 0.5), (570, 0.35), (573, 0.3), (576, 0.2), (579, 0.15), (582, 0.05), (585, 0.0),
    (588, 0.1), (591, 0.05), (594, 0.2), (597, 0.25), (600, 0.35), (603, 0.2), (606, 0.35), (609, 0.3),
    (612, 0.4), (615, 0.35), (618, 0.5), (621, 0.8), (624, 1.6), (627, 2.8), (630, 3.9), (633, 4.5),
    (636, 4.65), (639, 4.2), (642, 3.2), (645, 2.1), (648, 1.3), (651, 0.9), (654, 0.6), (657, 0.5),
    (660, 0.4), (663, 0.35), (666, 0.3), (669, 0.2), (672, 0.15), (675, 0.05), (678, 0.0), (681, 0.02),
    (684, 0.15), (687, 0.1), (690, 0.22), (693, 0.15), (696, 0.3), (699, 0.2), (702, 0.32), (705, 0.25),
    (708, 0.4), (711, 0.5), (714, 0.8), (717, 1.5), (720, 1.6), (723, 2.2), (726, 2.7), (728, 2.88),
    (731, 2.4), (734, 1.6), (737, 1.25), (740, 0.8), (743, 0.45), (746, 0.3), (749, 0.35), (752, 0.25),
    (755, 0.3), (758, 0.2), (761, 0.25), (764, 0.12), (767, 0.2), (770, 0.1), (773, 0.35), (776, 0.5),
    (779, 0.15), (782, 0.2), (785, 0.08), (788, 0.15), (791, 0.05), (794, 0.2), (797, 0.12), (800, 0.25),
    (803, 0.1), (806, 0.2), (809, 0.05), (812, 0.18), (815, 0.1), (818, 0.25), (821, 0.12), (824, 0.3),
    (827, 0.15), (830, 0.28), (833, 0.1), (836, 0.35), (839, 0.08), (842, 0.2), (845, 0.0), (848, 0.15),
    (851, 0.05), (854, 0.2), (857, 0.1), (860, 0.22), (863, 0.08), (866, 0.18), (869, 0.1), (872, 0.25),
    (875, 0.05), (878, 0.2), (881, 0.1), (884, 0.28), (887, 0.12), (890, 0.35), (893, 0.1), (896, 0.25),
    (899, 0.05), (902, 0.2), (905, 0.12), (908, 0.22), (911, 0.08), (914, 0.25), (917, 0.1), (920, 0.3),
    (923, 0.05), (926, 0.22), (929, 0.1), (932, 0.2), (935, 0.05), (938, 0.18), (941, 0.1), (944, 0.25),
    (947, 0.08), (950, 0.2), (953, 0.1), (956, 0.3), (959, 0.05), (962, 0.2), (965, 0.1), (968, 0.15),
    (971, 0.05), (974, 0.2), (977, 0.08), (980, 0.15), (983, 0.02), (986, 0.12), (989, 0.05), (992, 0.15),
    (995, 0.08), (998, 0.2), (1001, 0.05), (1004, 0.15), (1007, 0.1), (1010, 0.3), (1013, 0.05), (1015, 0.15),
]

src2_nica = [
    (0, 0.3), (3, 0.05), (6, 0.25), (9, 0.0), (12, 0.4), (15, 0.1), (18, 0.2), (21, 0.0), (24, 0.15),
    (27, 0.05), (30, 0.2), (33, 0.0), (36, 0.25), (39, 0.05), (42, 0.2), (45, 0.1), (48, 0.3), (51, 0.0),
    (54, 0.15), (57, 0.05), (60, 0.3), (63, 0.1), (66, 0.35), (69, 0.05), (72, 0.45), (75, 0.1), (78, 0.3),
    (81, 0.0), (84, 0.1), (87, 0.0), (90, 0.15), (93, 0.05), (96, 0.2), (99, 0.1), (102, 0.35), (105, 0.15),
    (108, 0.3), (111, 0.1), (114, 0.45), (117, 0.15), (120, 0.6), (123, 0.2), (126, 0.5), (129, 0.7),
    (132, 1.0), (135, 1.5), (138, 1.8), (141, 1.7), (144, 1.4), (147, 1.0), (150, 0.8), (153, 0.6), (156, 0.5),
    (159, 0.75), (162, 0.4), (165, 0.9), (168, 0.5), (171, 0.6), (174, 0.35), (177, 0.5), (180, 0.3),
    (183, 0.25), (186, 0.2), (189, 0.3), (192, 0.1), (195, 0.2), (198, 0.5), (201, 1.5), (204, 3.0),
    (207, 3.7), (210, 3.88), (213, 3.6), (216, 3.0), (219, 2.0), (222, 0.6), (225, 0.0), (228, 0.2),
    (231, 0.45), (234, 0.3), (237, 0.6), (240, 0.85), (243, 0.5), (246, 0.35), (249, 0.45), (252, 0.25),
    (255, 0.35), (258, 0.2), (261, 0.5), (264, 0.3), (267, 0.7), (270, 0.2), (273, 0.0), (276, 0.1),
    (279, 0.3), (282, 0.5), (285, 0.9), (288, 1.8), (291, 2.8), (294, 3.6), (297, 4.1), (300, 4.25),
    (302, 4.38), (305, 4.2), (308, 3.4), (311, 2.4), (314, 1.2), (317, 0.5), (320, 1.0), (323, 1.05),
    (326, 0.7), (329, 0.3), (332, 0.2), (335, 0.3), (338, 0.15), (341, 0.4), (344, 0.25), (347, 0.55),
    (350, 0.3), (353, 0.45), (356, 0.2), (359, 0.3), (362, 0.1), (365, 0.2), (368, 0.15), (371, 0.4),
    (374, 1.0), (377, 1.8), (380, 2.4), (383, 3.2), (386, 3.6), (389, 3.75), (392, 3.4), (395, 2.0),
    (398, 0.8), (401, 0.0), (404, 0.6), (407, 1.2), (410, 1.2), (413, 1.55), (416, 1.0), (419, 0.8),
    (422, 0.5), (425, 0.3), (428, 0.1), (431, 0.25), (434, 0.05), (437, 0.2), (440, 0.0), (443, 0.3),
    (446, 0.8), (449, 1.7), (452, 1.8), (455, 1.85), (458, 1.3), (461, 0.5), (463, 0.3), (466, 1.5),
    (469, 2.6), (472, 3.0), (475, 3.3), (477, 3.38), (480, 2.8), (483, 2.0), (486, 0.9), (489, 0.4),
    (492, 0.1), (495, 0.05), (498, 0.15), (501, 0.1), (504, 0.25), (507, 0.1), (510, 0.2), (513, 0.15),
    (516, 0.4), (519, 0.15), (522, 0.2), (525, 0.1), (528, 0.0), (531, 0.05), (534, 0.0), (537, 0.3),
    (540, 0.8), (543, 1.15), (546, 0.9), (549, 0.45), (552, 0.8), (555, 1.6), (558, 2.6), (561, 3.6),
    (564, 4.32), (567, 4.0), (570, 3.76), (573, 2.8), (576, 1.5), (579, 0.6), (582, 0.2), (585, 0.05),
    (588, 0.25), (591, 0.1), (594, 0.3), (597, 0.15), (600, 0.35), (603, 0.1), (606, 0.4), (609, 0.2),
    (612, 0.5), (615, 0.3), (618, 0.6), (621, 0.8), (624, 1.0), (627, 1.07), (630, 0.85), (633, 0.9),
    (636, 0.5), (639, 0.3), (642, 0.6), (645, 1.5), (648, 2.6), (651, 3.06), (654, 3.8), (657, 3.05),
    (660, 2.4), (663, 1.6), (666, 0.9), (669, 0.4), (672, 0.2), (675, 0.1), (678, 0.0), (681, 0.05),
    (684, 0.0), (687, 0.1), (690, 0.25), (693, 0.1), (696, 0.35), (699, 0.15), (702, 0.3), (705, 0.1),
    (708, 0.3), (711, 0.2), (714, 0.45), (717, 0.7), (720, 1.3), (723, 1.5), (726, 1.6), (728, 1.97),
    (731, 1.4), (734, 0.8), (737, 0.25), (740, 0.65), (743, 0.3), (746, 0.05), (749, 0.6), (752, 0.2),
    (755, 0.3), (758, 0.1), (761, 0.25), (764, 0.1), (767, 0.3), (770, 0.15), (773, 0.25), (776, 0.1),
    (779, 0.2), (782, 0.15), (785, 0.05), (788, 0.2), (791, 0.1), (794, 0.25), (797, 0.05), (800, 0.2),
    (803, 0.1), (806, 0.55), (809, 0.1), (812, 0.2), (815, 0.05), (818, 0.25), (821, 0.1), (824, 0.2),
    (827, 0.05), (830, 0.3), (833, 0.1), (836, 0.2), (839, 0.05), (842, 0.15), (845, 0.5), (848, 0.1),
    (851, 0.25), (854, 0.0), (857, 0.2), (860, 0.05), (863, 0.8), (866, 0.1), (869, 0.2), (872, 0.05),
    (875, 0.25), (878, 0.1), (881, 0.2), (884, 0.0), (887, 0.3), (890, 0.1), (893, 0.2), (896, 0.05),
    (899, 0.25), (902, 0.1), (905, 0.55), (908, 0.05), (911, 0.2), (914, 0.1), (917, 0.25), (920, 0.0),
    (923, 0.2), (926, 0.1), (929, 0.3), (932, 0.05), (935, 0.2), (938, 0.1), (941, 0.25), (944, 0.05),
    (947, 0.55), (950, 0.1), (953, 0.3), (956, 0.0), (959, 0.2), (962, 0.1), (965, 0.35), (968, 0.05),
    (971, 0.2), (974, 0.1), (977, 0.3), (980, 0.05), (983, 0.15), (986, 0.0), (989, 0.5), (992, 0.1),
    (995, 0.25), (998, 0.05), (1001, 0.2), (1004, 0.1), (1007, 0.5), (1010, 0.05), (1013, 0.2), (1016, 0.0),
    (1019, 0.35), (1022, 0.1), (1024, 0.35),
]

captions = [
    '(a) source 1 $-$ our method', '(b) source 2 $-$ our method',
    '(c) source 1 $-$ CAMNS', '(d) source 2 $-$ CAMNS',
    '(e) source 1 $-$ NMFSC', '(f) source 2 $-$ NMFSC',
    '(g) source 1 $-$ nICA', '(h) source 2 $-$ nICA',
]
series = [src1_ours, src2_ours, src1_camns, src2_camns,
          src1_nmfsc, src2_nmfsc, src1_nica, src2_nica]

# axis ranges per panel: (xmax, ymax, ystep)
ranges = [
    (1015, 41, 5), (1024, 42, 5),
    (1015, 45, 5), (1024, 45, 5),
    (1200, 0.12, 0.02), (1200, 0.12, 0.02),
    (1015, 5, 0.5), (1024, 5, 0.5),
]

plt.rcParams['font.family'] = 'Liberation Sans'
plt.rcParams['mathtext.fontset'] = 'cm'

W, H = 885, 1533
fig = plt.figure(figsize=(W / 100, H / 100), dpi=100)

col_left = [43.3, 502.3]
col_width = 362.3
row_top = [14.7, 404.7, 795.3, 1189.3]
row_height = 285.5
cap_x = [217, 676]
cap_base = [357.5, 748, 1140, 1526]

fmt = FuncFormatter(lambda v, p: '%g' % round(v, 6))

for i, (pts, (xmax, ymax, ystep), cap) in enumerate(zip(series, ranges, captions)):
    r, c = divmod(i, 2)
    ax = fig.add_axes([col_left[c] / W, 1 - (row_top[r] + row_height) / H,
                       col_width / W, row_height / H])
    xs = [p[0] for p in pts]
    ys = [p[1] for p in pts]
    ax.plot(xs, ys, color='#0000ff', lw=0.9)
    ax.set_xlim(0, xmax)
    ax.set_ylim(0, ymax)
    ax.xaxis.set_major_locator(MultipleLocator(200))
    ax.yaxis.set_major_locator(MultipleLocator(ystep))
    ax.xaxis.set_major_formatter(fmt)
    ax.yaxis.set_major_formatter(fmt)
    ax.tick_params(direction='in', length=3, width=0.6, top=True, right=True,
                   labelsize=10.5, pad=3, colors='#222222', labelcolor='#111111')
    for s in ax.spines.values():
        s.set_linewidth(0.8)
        s.set_color('#111111')
    ax.spines['left'].set_linewidth(1.2)
    ax.spines['bottom'].set_linewidth(1.2)
    fig.text(cap_x[c] / W, 1 - cap_base[r] / H, cap, family='cmr10', fontsize=17.5,
             ha='center', va='baseline', color='#222222')

fig.savefig('out.png', dpi=100)
